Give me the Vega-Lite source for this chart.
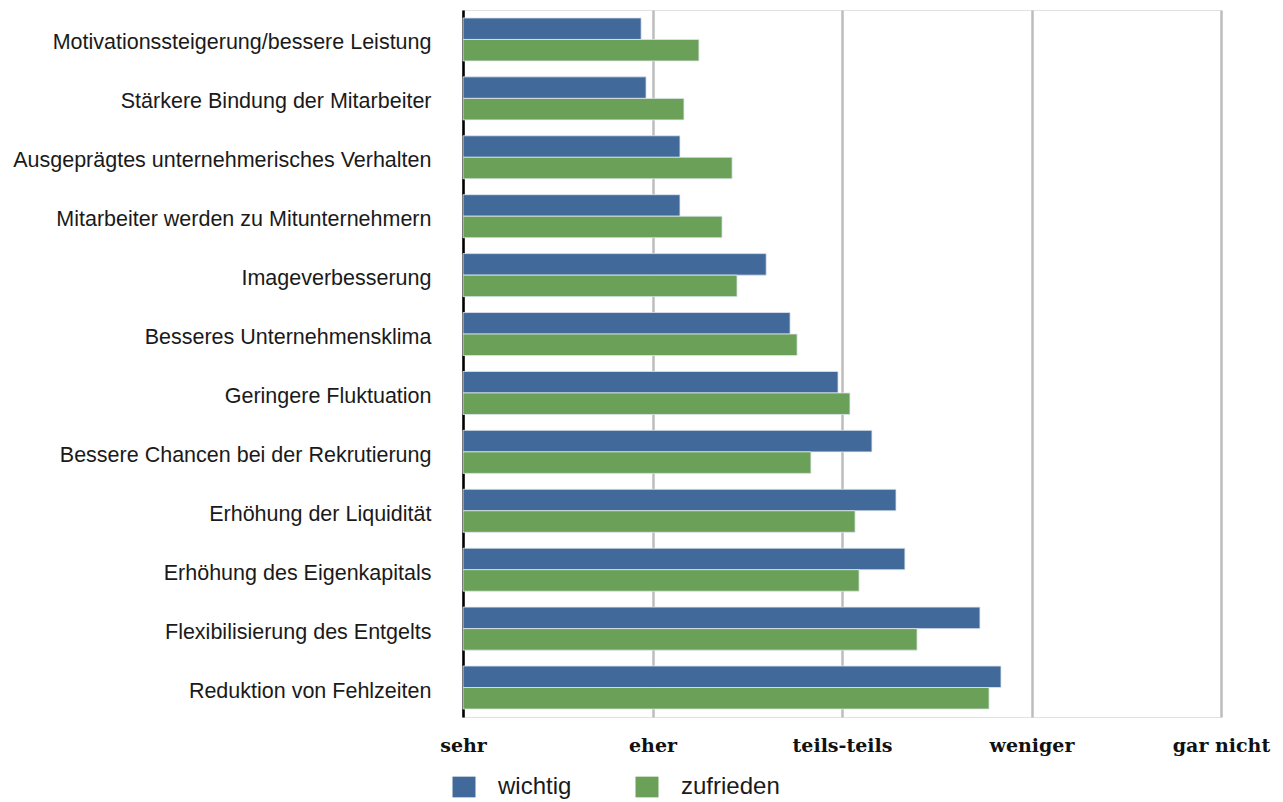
{
  "$schema": "https://vega.github.io/schema/vega-lite/v6.json",
  "autosize": "none",
  "padding": {"left": 463, "top": 10, "right": 62, "bottom": 85},
  "width": 758,
  "height": 707,
  "background": "white",
  "config": {
    "view": {"stroke": "#e2e2e2", "strokeWidth": 1},
    "axis": {"labelFont": "Liberation Sans"}
  },
  "data": {
    "values": [
      {"ziel": "Motivationssteigerung/bessere Leistung", "reihe": "wichtig", "wert": 1.94},
      {"ziel": "Motivationssteigerung/bessere Leistung", "reihe": "zufrieden", "wert": 2.245},
      {"ziel": "Stärkere Bindung der Mitarbeiter", "reihe": "wichtig", "wert": 1.966},
      {"ziel": "Stärkere Bindung der Mitarbeiter", "reihe": "zufrieden", "wert": 2.166},
      {"ziel": "Ausgeprägtes unternehmerisches Verhalten", "reihe": "wichtig", "wert": 2.145},
      {"ziel": "Ausgeprägtes unternehmerisches Verhalten", "reihe": "zufrieden", "wert": 2.42},
      {"ziel": "Mitarbeiter werden zu Mitunternehmern", "reihe": "wichtig", "wert": 2.145},
      {"ziel": "Mitarbeiter werden zu Mitunternehmern", "reihe": "zufrieden", "wert": 2.367},
      {"ziel": "Imageverbesserung", "reihe": "wichtig", "wert": 2.60},
      {"ziel": "Imageverbesserung", "reihe": "zufrieden", "wert": 2.446},
      {"ziel": "Besseres Unternehmensklima", "reihe": "wichtig", "wert": 2.726},
      {"ziel": "Besseres Unternehmensklima", "reihe": "zufrieden", "wert": 2.763},
      {"ziel": "Geringere Fluktuation", "reihe": "wichtig", "wert": 2.979},
      {"ziel": "Geringere Fluktuation", "reihe": "zufrieden", "wert": 3.042},
      {"ziel": "Bessere Chancen bei der Rekrutierung", "reihe": "wichtig", "wert": 3.158},
      {"ziel": "Bessere Chancen bei der Rekrutierung", "reihe": "zufrieden", "wert": 2.836},
      {"ziel": "Erhöhung der Liquidität", "reihe": "wichtig", "wert": 3.285},
      {"ziel": "Erhöhung der Liquidität", "reihe": "zufrieden", "wert": 3.069},
      {"ziel": "Erhöhung des Eigenkapitals", "reihe": "wichtig", "wert": 3.332},
      {"ziel": "Erhöhung des Eigenkapitals", "reihe": "zufrieden", "wert": 3.09},
      {"ziel": "Flexibilisierung des Entgelts", "reihe": "wichtig", "wert": 3.728},
      {"ziel": "Flexibilisierung des Entgelts", "reihe": "zufrieden", "wert": 3.396},
      {"ziel": "Reduktion von Fehlzeiten", "reihe": "wichtig", "wert": 3.839},
      {"ziel": "Reduktion von Fehlzeiten", "reihe": "zufrieden", "wert": 3.776}
    ]
  },
  "mark": {"type": "bar", "stroke": "#dfe6ee", "strokeWidth": 0.8},
  "encoding": {
    "y": {
      "field": "ziel",
      "type": "nominal",
      "sort": null,
      "scale": {"paddingInner": 0.27, "paddingOuter": 0.135},
      "axis": {
        "title": null,
        "domainColor": "#000000",
        "domainWidth": 2.5,
        "ticks": false,
        "labelFontSize": 21.5,
        "labelColor": "#1a1a1a",
        "labelPadding": 32,
        "labelOffset": 4,
        "labelLimit": 460
      }
    },
    "yOffset": {"field": "reihe", "type": "nominal", "sort": ["wichtig", "zufrieden"]},
    "x": {
      "field": "wert",
      "type": "quantitative",
      "scale": {"domain": [1, 5], "zero": false, "nice": false},
      "axis": {
        "title": null,
        "values": [1, 2, 3, 4, 5],
        "labelExpr": "datum.value == 1 ? 'sehr' : datum.value == 2 ? 'eher' : datum.value == 3 ? 'teils-teils' : datum.value == 4 ? 'weniger' : 'gar nicht'",
        "labelFont": "DejaVu Serif",
        "labelFontWeight": "bold",
        "labelFontSize": 19,
        "labelColor": "#111111",
        "labelPadding": 19,
        "ticks": false,
        "domain": false,
        "grid": true,
        "gridColor": "#bdbdbd",
        "gridWidth": 2.5,
        "labelFlush": false
      }
    },
    "x2": {"datum": 1},
    "color": {
      "field": "reihe",
      "type": "nominal",
      "scale": {"domain": ["wichtig", "zufrieden"], "range": ["#41699a", "#6aa057"]},
      "legend": {
        "title": null,
        "orient": "none",
        "direction": "horizontal",
        "legendX": -11,
        "legendY": 765,
        "symbolType": "M-1,-0.9H1V0.9H-1Z",
        "symbolSize": 529,
        "symbolStrokeWidth": 0,
        "symbolOpacity": 1,
        "labelFont": "Liberation Sans",
        "labelFontSize": 24,
        "labelColor": "#1a1a1a",
        "labelOffset": 22,
        "columnPadding": 63
      }
    }
  }
}
